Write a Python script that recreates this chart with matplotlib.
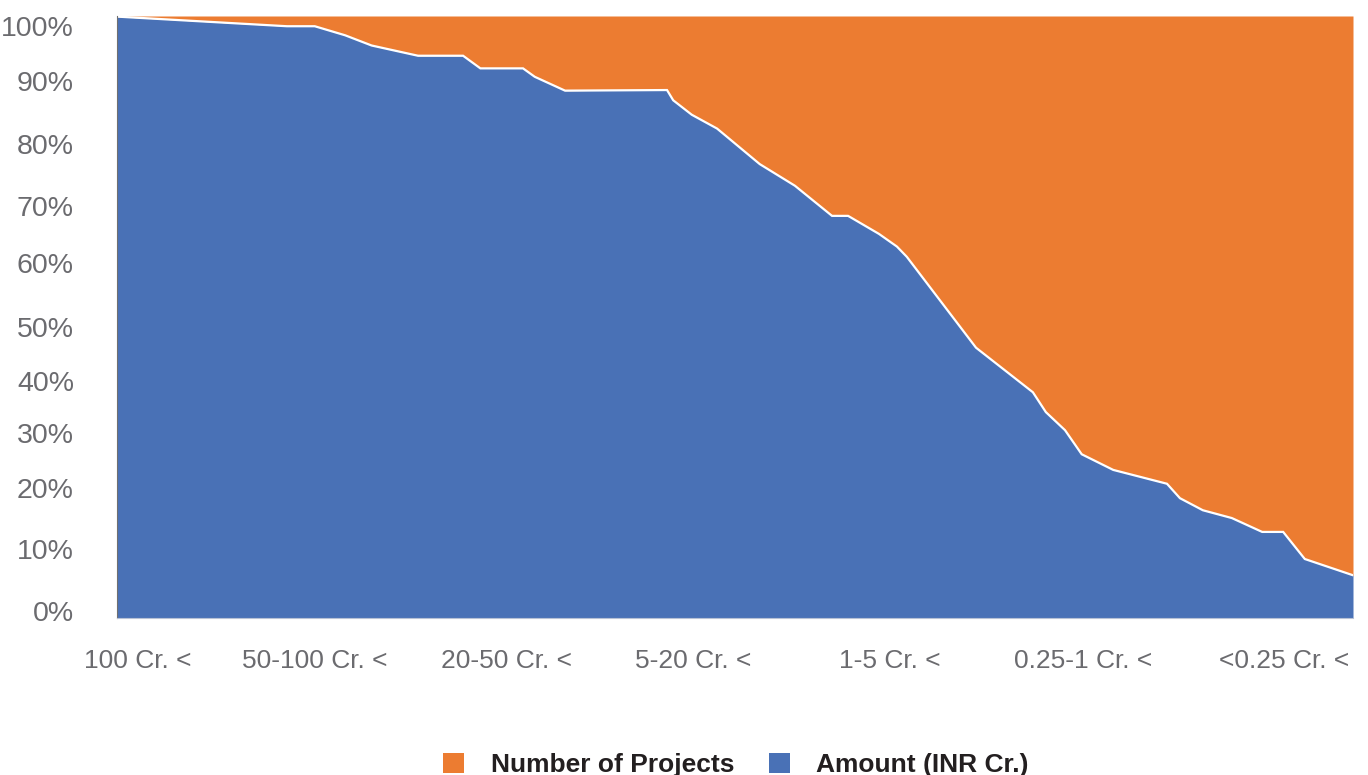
import matplotlib
matplotlib.use("Agg")
import matplotlib.pyplot as plt
from matplotlib.patches import Patch

plt.rcParams['font.family'] = ['Liberation Sans', 'DejaVu Sans']

# position along the project-size axis (0 = largest, 100 = smallest) and
# share of amount (%) at that position; projects fill the rest up to 100 %
pos = [0, 13.75, 16.0, 18.45, 20.6, 24.35, 28.0, 29.4, 32.85, 33.8, 36.25,
       44.5, 45.0, 46.5, 48.55, 52.0, 54.85, 57.85, 59.15, 61.65, 63.1, 63.9,
       69.5, 74.1, 75.15, 76.7, 78.05, 80.6, 84.95, 86.0, 87.85, 90.2, 92.65,
       94.35, 96.1, 100]
amount_share = [99.9, 98.3, 98.3, 96.8, 95.1, 93.4, 93.4, 91.3, 91.3, 89.9, 87.6,
                87.7, 86.0, 83.6, 81.3, 75.4, 71.8, 66.8, 66.8, 63.8, 61.7, 60.0,
                44.9, 37.5, 34.2, 31.2, 27.2, 24.6, 22.3, 19.9, 17.9, 16.6, 14.3,
                14.3, 9.8, 7.1]

size_labels = ['100 Cr. <', '50-100 Cr. <', '20-50 Cr. <', '5-20 Cr. <',
               '1-5 Cr. <', '0.25-1 Cr. <', '<0.25 Cr. <']
size_label_pos = [1.66, 16.0, 31.5, 46.6, 62.5, 78.2, 94.4]

pct_labels = ['0%', '10%', '20%', '30%', '40%', '50%', '60%', '70%', '80%', '90%', '100%']
pct_label_pos = [1.1, 11.5, 21.6, 30.7, 39.4, 48.4, 59.0, 68.4, 78.7, 89.2, 98.3]

blue = '#4971b6'
orange = '#ec7c31'

fig = plt.figure(figsize=(13.68, 7.75), dpi=100)
ax = fig.add_axes([117/1368, 1 - 618/775, (1353-117)/1368, (618-16)/775])

ax.fill_between(pos, 0, amount_share, color=blue, linewidth=0)
ax.fill_between(pos, amount_share, 100, color=orange, linewidth=0)
ax.plot(pos, amount_share, color='white', lw=1.6, solid_joinstyle='miter')

ax.set_xlim(0, 100)
ax.set_ylim(0, 100)

ax.set_xticks(size_label_pos, size_labels)
ax.set_yticks(pct_label_pos, pct_labels)
ax.tick_params(axis='x', length=0, pad=22, labelsize=19, labelcolor='#6b6b6f')
ax.tick_params(axis='y', length=0, pad=31, labelsize=20.5, labelcolor='#6b6b6f')

for s in ['top', 'right']:
    ax.spines[s].set_visible(False)
ax.spines['left'].set_color('#707070')
ax.spines['left'].set_linewidth(0.8)
ax.spines['bottom'].set_color('#b8c2d6')
ax.spines['bottom'].set_linewidth(0.8)

handles = [Patch(facecolor=orange, edgecolor='none', label='Number of Projects'),
           Patch(facecolor=blue, edgecolor='none', label='Amount (INR Cr.)')]
leg = fig.legend(handles=handles, loc='center', bbox_to_anchor=(0.538, 0.013),
                 ncol=2, frameon=False, handlelength=0.8, handleheight=0.8,
                 handletextpad=1.0, columnspacing=1.3,
                 prop={'size': 19, 'weight': 'bold'})
for t in leg.get_texts():
    t.set_color('#231f20')

fig.savefig('out.png', dpi=100)
